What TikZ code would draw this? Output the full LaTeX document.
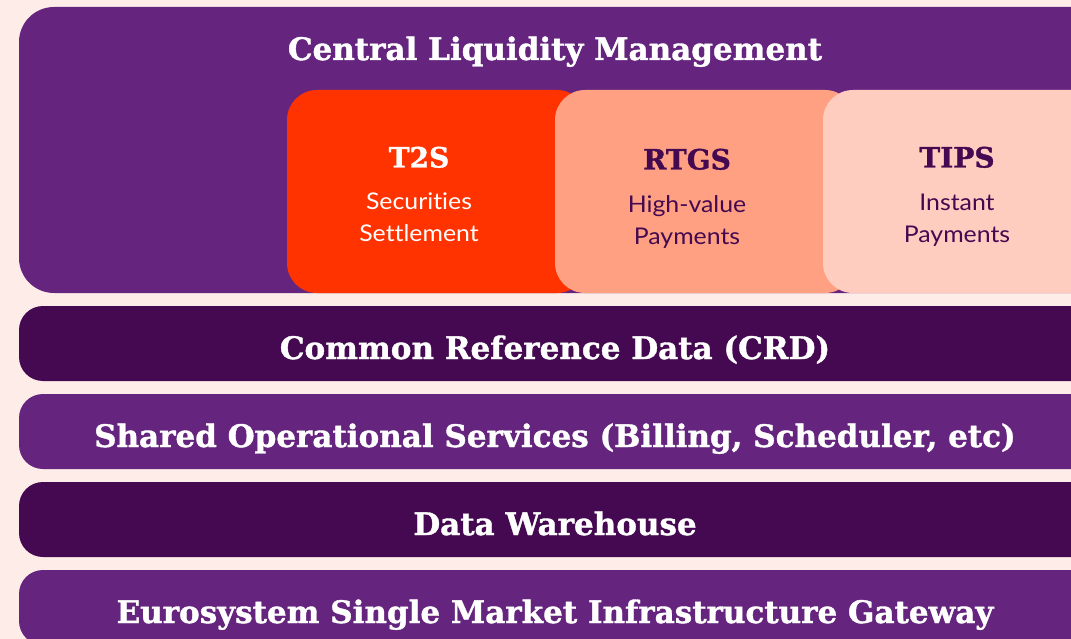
\documentclass[tikz,border=0pt]{standalone}
\usepackage{fontspec}
\newfontfamily\slabfont{DejaVu Serif}[BoldFont={DejaVu Serif Bold},BoldFeatures={FakeBold=1.2}]
\newfontfamily\bodyfont{Lato}[FakeStretch=1.08,Ligatures=NoCommon]
\definecolor{bgpink}{HTML}{FDECE8}
\definecolor{midpurple}{HTML}{65257E}
\definecolor{darkpurple}{HTML}{440950}
\definecolor{t2sred}{HTML}{FF3300}
\definecolor{rtgspeach}{HTML}{FFA082}
\definecolor{tipspink}{HTML}{FFCDC0}

\begin{document}
\begin{tikzpicture}[x=1pt,y=-1pt,
  layerbar/.style={rectangle,rounded corners=24pt,minimum width=1120pt,minimum height=75pt,inner sep=0pt},
  appbox/.style={rectangle,rounded corners=30pt,minimum width=300pt,minimum height=203pt,inner sep=0pt},
  slabtext/.style={anchor=base,inner sep=0pt,font=\slabfont\bfseries\fontsize{31}{36}\selectfont},
  apptitle/.style={anchor=base,inner sep=0pt,font=\slabfont\bfseries\fontsize{28}{32}\selectfont},
  appsub/.style={anchor=base,inner sep=0pt,font=\bodyfont\fontsize{23}{27}\selectfont}]
  \fill[bgpink] (0,0) rectangle (1071,639);
  \clip (0,0) rectangle (1071,639);
  % central liquidity management
  \node[rectangle,rounded corners=35pt,minimum width=1120pt,minimum height=286pt,inner sep=0pt,fill=midpurple] (clm) at (579,150) {};
  \node[slabtext,text=white] (clm-title) at (555,60) {Central Liquidity Management};
  % services
  \node[appbox,fill=t2sred] (t2s) at (437,191.5) {};
  \node[appbox,fill=rtgspeach] (rtgs) at (705,191.5) {};
  \node[appbox,fill=tipspink] (tips) at (973,191.5) {};
  \node[apptitle,text=white] (t2s-title) at (419,167.5) {T2S};
  \node[appsub,text=white] (t2s-sub1) at (419,210) {Securities};
  \node[appsub,text=white] (t2s-sub2) at (419,242) {Settlement};
  \node[apptitle,text=darkpurple] (rtgs-title) at (687,169.5) {RTGS};
  \node[appsub,text=darkpurple] (rtgs-sub1) at (687,212.5) {High-value};
  \node[appsub,text=darkpurple] (rtgs-sub2) at (687,244.5) {Payments};
  \node[apptitle,text=darkpurple] (tips-title) at (957,167.5) {TIPS};
  \node[appsub,text=darkpurple] (tips-sub1) at (957,210.5) {Instant};
  \node[appsub,text=darkpurple] (tips-sub2) at (957,242.5) {Payments};
  % shared layers
  \node[layerbar,fill=darkpurple] (crd) at (579,343.5) {};
  \node[slabtext,text=white] (crd-label) at (555,359) {Common Reference Data (CRD)};
  \node[layerbar,fill=midpurple] (sos) at (579,431.5) {};
  \node[slabtext,text=white] (sos-label) at (555,447) {Shared Operational Services (Billing, Scheduler, etc)};
  \node[layerbar,fill=darkpurple] (dwh) at (579,519.5) {};
  \node[slabtext,text=white] (dwh-label) at (555,535) {Data Warehouse};
  \node[layerbar,fill=midpurple] (esmig) at (579,607.5) {};
  \node[slabtext,text=white] (esmig-label) at (555,623) {Eurosystem Single Market Infrastructure Gateway};
\end{tikzpicture}
\end{document}
